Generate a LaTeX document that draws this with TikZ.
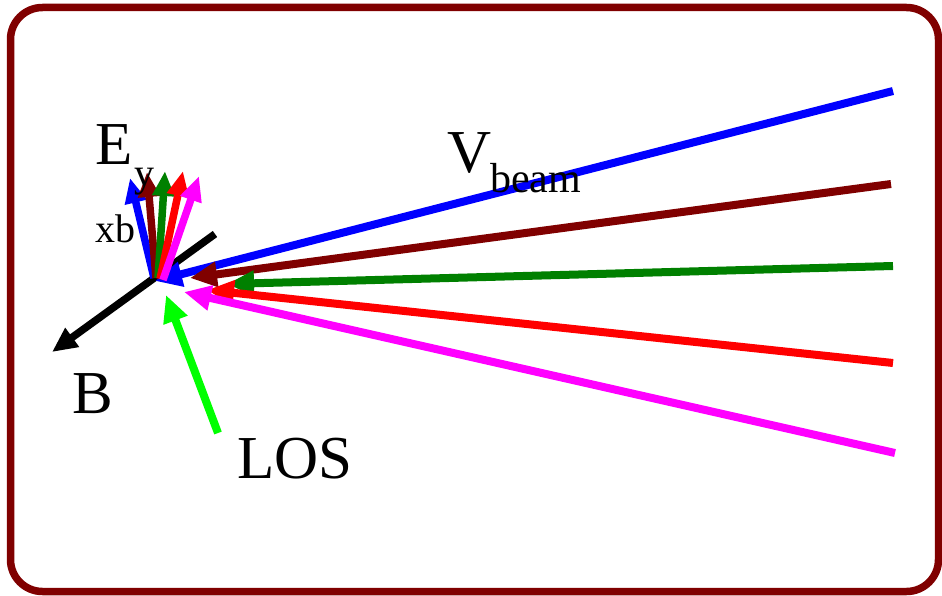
\documentclass[tikz,border=0pt]{standalone}
\usepackage{fontspec}
\setmainfont{Liberation Serif}
\usetikzlibrary{arrows.meta}
\definecolor{maroonc}{RGB}{128,0,0}
\definecolor{dgreen}{RGB}{0,128,0}
\definecolor{limec}{RGB}{0,255,0}
\definecolor{magc}{RGB}{255,0,255}
\begin{document}
\begin{tikzpicture}[x=1pt,y=-1pt,
  vec/.style={line width=8pt,-{Triangle[length=27pt,width=24pt]}},
  evec/.style={line width=7.5pt,-{Triangle[length=25pt,width=21pt]}},
  bigtxt/.style={inner sep=0pt,anchor=base west,font=\fontsize{61}{61}\selectfont},
  subtxt/.style={inner sep=0pt,anchor=base west,font=\fontsize{42}{42}\selectfont}]
\useasboundingbox (0,0) rectangle (942,596);
\draw[maroonc,line width=7.5pt,rounded corners=32pt] (10.5,7.5) rectangle (938.5,591.5);
% coordinates
\coordinate (O) at (157,279);
\coordinate (Bs) at (215,234);
\coordinate (Bt) at (52,352);
\coordinate (b1s) at (893,91);   \coordinate (b1t) at (155,281);
\coordinate (b2s) at (891,184);  \coordinate (b2t) at (190,278);
\coordinate (b3s) at (893,266);  \coordinate (b3t) at (227,284);
\coordinate (b4s) at (893,363);  \coordinate (b4t) at (207,290);
\coordinate (b5s) at (895,453);  \coordinate (b5t) at (184,292);
\coordinate (Ls) at (218,433);   \coordinate (Lt) at (166,295);
\coordinate (e1s) at (154,278);  \coordinate (e1t) at (130,178);
\coordinate (e2s) at (156,278);  \coordinate (e2t) at (147,172);
\coordinate (e3s) at (158,278);  \coordinate (e3t) at (165,171);
\coordinate (e4s) at (160,279);  \coordinate (e4t) at (183,171);
\coordinate (e5s) at (163,280);  \coordinate (e5t) at (199,176);
% B field
\draw[line width=7.5pt,black,-{Triangle[length=25pt,width=22pt]}] (Bs) -- (Bt);
% beams
\draw[vec,blue] (b1s) -- (b1t);
\draw[vec,maroonc] (b2s) -- (b2t);
\draw[vec,dgreen] (b3s) -- (b3t);
\draw[vec,red] (b4s) -- (b4t);
\draw[vec,magc] (b5s) -- (b5t);
% LOS
\draw[vec,limec] (Ls) -- (Lt);
% E vectors
\draw[evec,blue] (e1s) -- (e1t);
\draw[evec,maroonc] (e2s) -- (e2t);
\draw[evec,dgreen] (e3s) -- (e3t);
\draw[evec,red] (e4s) -- (e4t);
\draw[evec,magc] (e5s) -- (e5t);
% labels
\node[bigtxt] (E) at (95,165) {E};
\node[subtxt,font=\fontsize{40}{40}\selectfont] (Ey) at (134,186) {y};
\node[subtxt,font=\fontsize{40}{40}\selectfont] (xb) at (95,242) {xb};
\node[bigtxt] (V) at (447,173) {V};
\node[subtxt] (beam) at (490,193) {beam};
\node[bigtxt] (Blab) at (72,413) {B};
\node[bigtxt] (LOS) at (237,478) {LOS};
\end{tikzpicture}
\end{document}
